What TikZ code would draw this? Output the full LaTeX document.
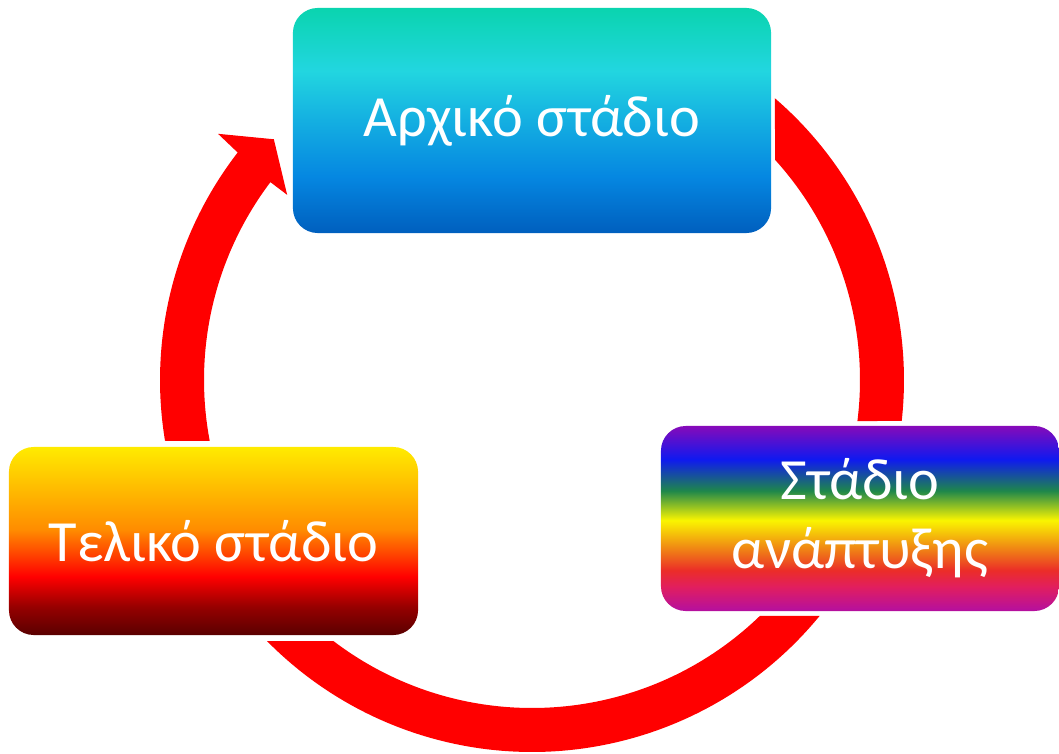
\documentclass[tikz,border=0pt]{standalone}
\usepackage{fontspec}
\setmainfont{Carlito}
\usetikzlibrary{calc}
\definecolor{ringred}{RGB}{255,0,0}
\definecolor{startA}{RGB}{10,212,175}
\definecolor{startB}{RGB}{34,214,224}
\definecolor{startC}{RGB}{20,175,225}
\definecolor{startD}{RGB}{5,135,225}
\definecolor{startE}{RGB}{0,95,190}
\definecolor{growA}{RGB}{135,10,185}
\definecolor{growB}{RGB}{15,25,240}
\definecolor{growC}{RGB}{30,135,75}
\definecolor{growD}{RGB}{250,245,0}
\definecolor{growE}{RGB}{240,135,20}
\definecolor{growF}{RGB}{235,45,40}
\definecolor{growG}{RGB}{225,30,95}
\definecolor{growH}{RGB}{180,15,160}
\definecolor{finalA}{RGB}{255,235,0}
\definecolor{finalB}{RGB}{255,140,0}
\definecolor{finalC}{RGB}{255,0,0}
\definecolor{finalD}{RGB}{150,0,0}
\definecolor{finalE}{RGB}{90,0,0}
\pgfdeclareverticalshading{startshade}{100bp}{color(0bp)=(startE); color(25bp)=(startE); color(37.5bp)=(startD); color(50bp)=(startC); color(61bp)=(startB); color(75bp)=(startA); color(100bp)=(startA)}
\pgfdeclareverticalshading{growshade}{100bp}{color(0bp)=(growH); color(25bp)=(growH); color(31.5bp)=(growG); color(36bp)=(growF); color(42bp)=(growE); color(49.5bp)=(growD); color(57.5bp)=(growC); color(66bp)=(growB); color(75bp)=(growA); color(100bp)=(growA)}
\pgfdeclareverticalshading{finalshade}{100bp}{color(0bp)=(finalE); color(25bp)=(finalE); color(32.5bp)=(finalD); color(40.5bp)=(finalC); color(53bp)=(finalB); color(75bp)=(finalA); color(100bp)=(finalA)}

\begin{document}
\begin{tikzpicture}[x=0.025cm, y=0.025cm]
    \tikzset{stage/.style={shade, rounded corners=0.62cm, text=white, align=center, font=\fontsize{41.5}{49}\selectfont}}
    \useasboundingbox (0,0) rectangle (1059,-754);
    \coordinate (C) at (532,-380);

    \fill[ringred] ($(C)+(49.25:372)$) arc[start angle=49.25, end angle=-6.32, radius=372] -- ($(C)+(-7.19:328)$) arc[start angle=-7.19, end angle=42.15, radius=328] -- cycle;
    \fill[ringred] ($(C)+(-39.37:372)$) arc[start angle=-39.37, end angle=-135.43, radius=372] -- ($(C)+(-127.27:328)$) arc[start angle=-127.27, end angle=-46, radius=328] -- cycle;
    \fill[ringred] ($(C)+(189.4:372)$) arc[start angle=189.4, end angle=142.3, radius=372] -- ($(C)+(141.9:399)$) -- ($(C)+(137:353)$) -- ($(C)+(142.9:307)$) -- ($(C)+(142.9:328)$) arc[start angle=142.9, end angle=190.7, radius=328] -- cycle;

    \node[stage, shading=startshade, minimum width=11.95cm, minimum height=5.625cm] at (532,-120.5) (start) {Αρχικό στάδιο};
    \node[stage, shading=growshade, minimum width=9.95cm, minimum height=4.625cm] at (860,-518.5) (grow) {Στάδιο\\ανάπτυξης};
    \node[stage, shading=finalshade, minimum width=10.225cm, minimum height=4.7cm] at (213.5,-541) (final) {Τελικό στάδιο};
\end{tikzpicture}
\end{document}
